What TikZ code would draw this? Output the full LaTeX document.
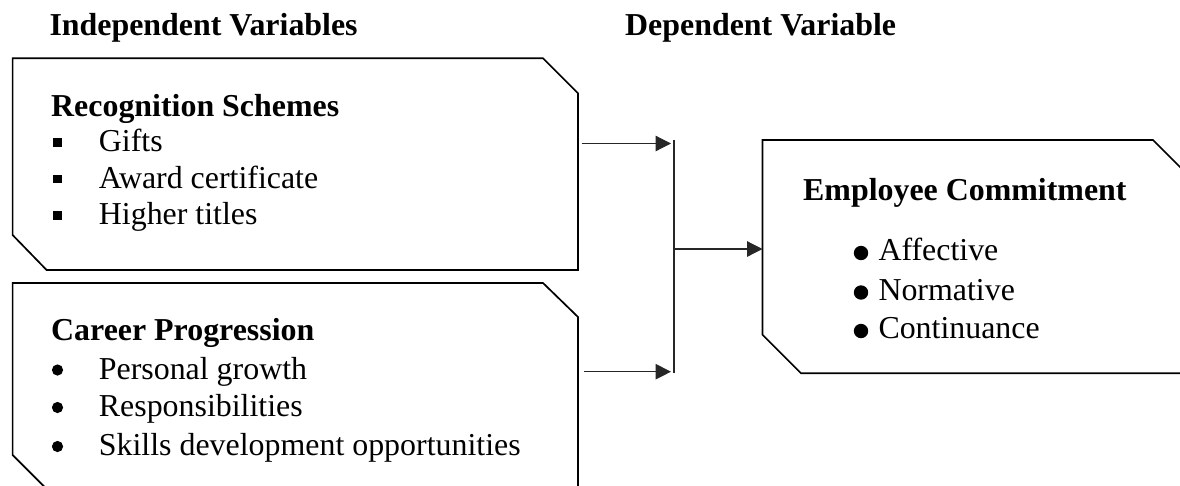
\documentclass[tikz,border=0pt]{standalone}
\usepackage{fontspec}
\setmainfont{Liberation Serif}
\usetikzlibrary{arrows.meta,calc}
\begin{document}
\begin{tikzpicture}[x=1pt,y=-1pt,
  area/.style={draw=none,rectangle,inner sep=0pt,outer sep=0pt,anchor=north west},
  boxline/.style={line width=1.7pt,line join=miter},
  conn/.style={line width=1.2pt,draw=black!85},
  arr/.style={conn,-{Triangle[length=15.5pt,width=15.5pt]}},
  txt/.style={anchor=base west,inner sep=0pt,font=\fontsize{31.9}{38}\selectfont},
  head/.style={anchor=base west,inner sep=0pt,font=\fontsize{31.9}{38}\selectfont\bfseries}]
\useasboundingbox (0,0) rectangle (1180,485);
\clip (0,0) rectangle (1180,485);

% headers
\node[head] (hind) at (49.3,35) {Independent Variables};
\node[head] (hdep) at (625,35) {Dependent Variable};

% box areas
\node[area,minimum width=565.4pt,minimum height=211.7pt] (rec) at (12.6,58.3) {};
\node[area,minimum width=565.4pt,minimum height=207pt] (car) at (12.6,283) {};
\node[area,minimum width=432.5pt,minimum height=233.3pt] (dep) at (762.5,140) {};

% box outlines
\draw[boxline] (rec.north west) -- ([xshift=-35pt]rec.north east) -- ([yshift=-35pt]rec.north east)
  -- (rec.south east) -- ([xshift=34pt]rec.south west) -- ([yshift=35pt]rec.south west) -- cycle;
\draw[boxline] (car.north west) -- ([xshift=-35pt]car.north east) -- ([yshift=-34pt]car.north east)
  -- (car.south east) -- ([xshift=35pt]car.south west) -- ([yshift=35pt]car.south west) -- cycle;
\draw[boxline] (dep.north west) -- ([xshift=-42pt]dep.north east) -- ([yshift=-42pt]dep.north east)
  -- (dep.south east) -- ([xshift=38.5pt]dep.south west) -- ([yshift=38.5pt]dep.south west) -- cycle;

% box 1 text
\node[head] (rect) at (51,116.7) {Recognition Schemes};
\node[txt] (r1) at (98.7,151.7) {Gifts};
\node[txt] (r2) at (98.7,188.3) {Award certificate};
\node[txt] (r3) at (98.7,224.5) {Higher titles};
\fill (53.3,138.3) rectangle (61.7,146.7);
\fill (53.3,174.9) rectangle (61.7,183.3);
\fill (53.3,211.1) rectangle (61.7,219.5);

% box 2 text
\node[head] (cart) at (51,340.5) {Career Progression};
\node[txt] (c1) at (98.7,379) {Personal growth};
\node[txt] (c2) at (98.7,416.5) {Responsibilities};
\node[txt] (c3) at (98.7,455.5) {Skills development opportunities};
\fill (57.5,370) circle (5.6);
\fill (57.5,407.5) circle (5.6);
\fill (57.5,446.5) circle (5.6);

% box 3 text
\node[head] (dept) at (803,200) {Employee Commitment};
\node[txt] (d1) at (878.3,260) {Affective};
\node[txt] (d2) at (878.3,300) {Normative};
\node[txt] (d3) at (878.3,338.5) {Continuance};
\fill (861,253) circle (7.2);
\fill (861,292.5) circle (7.2);
\fill (861,331) circle (7.2);

% connectors
\coordinate (jt) at (674,140.3);
\coordinate (jb) at (674,372.7);
\coordinate (s1) at (581.5,143.5);
\coordinate (e1) at (671,143.5);
\coordinate (s2) at (584,371.7);
\coordinate (e2) at (671,371.7);
\coordinate (jm) at (674,249);
\draw[conn] (jt) -- (jb);
\draw[arr] (s1) -- (e1);
\draw[arr] (s2) -- (e2);
\draw[arr] (jm) -- (jm -| dep.west);
\end{tikzpicture}
\end{document}
